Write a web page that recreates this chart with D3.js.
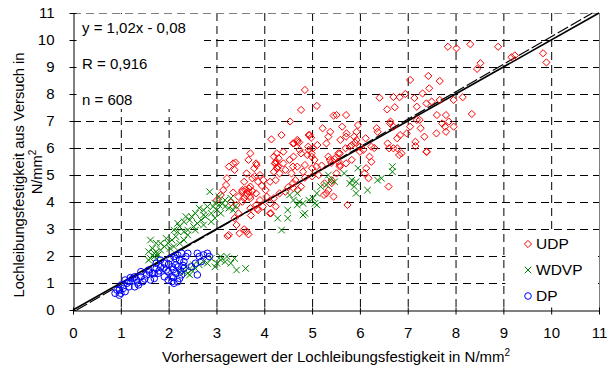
<!DOCTYPE html>
<html>
<head>
<meta charset="utf-8">
<script src="https://cdn.jsdelivr.net/npm/d3@7"></script>
<style>
  body { margin: 0; background: #fff; }
  text { font-family: "Liberation Sans", Arial, sans-serif; }
</style>
</head>
<body>
<script>
const width  = 613;
const height = 367;

// axis ticks 0..11 on both axes
const ticks = d3.range(0, 12);

// values: [predicted, test]
const udp = [
  [7.84,9.75],[8.02,9.69],[8.31,9.84],[8.89,9.75],[9.17,9.36],[9.24,9.43],[9.83,9.51],[9.9,9.17],[8.52,9.14],[8.45,8.93],
  [7.05,8.52],[7.43,8.67],[7.67,8.48],[7.45,8.21],[7.31,8.02],[6.95,8.0],[6.83,7.88],[6.7,7.89],[6.41,7.86],[7.14,7.85],
  [7.19,7.53],[7.39,7.65],[7.5,7.72],[7.67,7.78],[7.96,7.78],[8.15,7.88],[8.34,7.26],[7.96,6.79],[7.8,7.22],[7.61,7.22],
  [7.86,6.98],[7.72,6.91],[7.8,6.6],[7.25,7.04],[7.27,6.73],[7.35,6.42],[7.16,6.23],[7.16,6.07],[7.39,5.86],[7.05,6.79],
  [6.98,6.54],[6.78,6.36],[6.64,6.98],[6.7,6.79],[6.58,6.17],[6.82,5.74],[6.78,5.99],[6.61,5.99],[6.57,7.43],[6.73,7.51],
  [6.37,6.6],[6.24,6.05],[6.24,5.49],[6.13,5.25],[6.18,4.88],[6.1,5.06],[5.96,6.85],[6.12,6.36],[6.0,5.86],[5.88,6.42],
  [5.83,6.11],[5.7,5.99],[5.59,6.3],[5.71,7.22],[5.45,7.2],[5.51,7.22],[5.63,6.79],[5.71,6.42],[5.38,6.6],[5.22,6.73],
  [5.34,6.42],[5.3,6.17],[5.58,5.8],[5.71,5.43],[5.83,5.56],[5.58,5.31],[5.47,5.58],[5.34,5.68],[5.51,5.06],[5.41,4.81],
  [5.45,4.2],[5.34,4.44],[5.25,4.26],[5.74,3.89],[6.6,4.57],[5.1,7.56],[4.85,8.15],[4.77,7.41],[4.54,6.98],[4.15,6.32],
  [4.36,6.48],[4.69,6.3],[4.73,6.21],[4.62,6.17],[4.93,6.48],[4.98,6.38],[5.11,6.11],[5.02,5.99],[4.93,5.93],[4.77,5.8],
  [4.61,5.68],[4.53,5.56],[4.9,5.74],[4.99,5.68],[5.05,5.56],[5.0,5.25],[4.85,5.37],[4.69,5.31],[4.57,5.06],[4.65,4.81],
  [4.77,4.57],[4.61,4.51],[4.44,5.19],[4.4,5.43],[4.24,5.43],[4.3,5.62],[4.2,5.68],[4.29,5.31],[4.2,5.12],[4.32,5.06],
  [4.24,4.81],[4.12,4.75],[4.44,4.38],[4.32,4.32],[4.2,4.14],[4.12,3.95],[4.24,3.83],[4.12,3.58],[3.97,3.83],[3.91,4.07],
  [3.83,4.32],[4.03,4.44],[3.87,4.75],[3.91,5.0],[3.79,5.25],[3.83,5.43],[3.71,5.8],[3.67,5.56],[3.63,5.06],[3.75,4.88],
  [3.58,4.75],[3.71,4.57],[3.67,4.38],[3.54,4.38],[3.46,4.2],[3.58,4.14],[3.71,4.14],[3.54,4.01],[3.42,3.89],[3.3,3.98],
  [3.35,4.35],[3.38,5.19],[3.35,5.43],[3.26,5.31],[3.4,5.46],[3.22,4.88],[3.2,4.63],[3.14,4.44],[3.09,4.26],[3.01,4.07],
  [3.46,3.58],[3.38,3.4],[3.42,3.15],[3.48,2.84],[3.26,2.78],[3.23,2.74],[3.58,2.99],[3.63,2.9],[3.67,2.8],[3.71,3.77],
  [3.83,3.89],[3.87,3.7],[4.14,3.58],[3.54,4.44],[5.14,5.0],[5.26,4.69],[3.65,4.3],[3.7,4.22],[3.6,4.45],[3.75,4.4],
  [3.62,4.25],[3.68,4.5],[4.27,5.25],[4.25,5.5],[5.2,5.35],[5.4,5.45],[5.55,5.5],[5.5,5.65],[6.0,6.05],[5.9,6.2],
  [6.3,6.0],[4.5,4.55],[4.6,4.7],[5.0,4.95],[4.85,4.9],[4.7,4.45],[3.95,4.6],[3.85,3.75],[3.72,3.5],[4.05,4.2],
  [4.6,6.17],[4.69,6.23],[4.95,6.48],[4.92,6.05],[4.74,5.93],[4.99,5.8],[4.4,5.86],[4.26,5.8],[4.22,5.43],[4.26,5.25],
  [3.84,5.37],[3.8,4.95],[3.98,4.81],[4.6,5.31],[4.81,5.12],[5.09,5.31],[5.37,5.56],[5.58,5.37],[5.55,5.8],[5.79,6.05],
  [5.93,6.3],[6.07,5.93],[6.2,5.68],[5.72,6.54],[5.93,6.6],[6.35,6.73],[6.63,6.91],[6.84,6.48],[6.7,5.99],[6.87,5.8],
  [7.19,7.04],[7.4,5.86],[7.6,6.54],[7.78,6.79],[5.3,4.32],[5.41,4.7]
];

const wdvp = [
  [6.68,5.31],[6.68,5.12],[6.45,4.88],[6.37,4.81],[6.16,4.44],[5.96,5.25],[5.92,4.75],[5.88,4.57],[5.92,4.32],[5.83,4.81],
  [5.79,4.69],[5.67,5.06],[5.47,4.75],[5.34,5.0],[5.3,4.63],[5.18,4.57],[5.1,4.32],[5.02,4.14],[5.1,3.89],[5.06,3.95],
  [4.93,4.07],[4.81,3.95],[4.85,3.58],[4.81,3.52],[4.73,4.01],[4.69,3.89],[4.49,3.7],[4.49,3.4],[4.28,3.4],[4.36,2.96],
  [4.53,4.26],[4.61,4.07],[4.69,4.32],[5.38,4.81],
  [2.86,4.38],[3.05,4.2],[2.97,3.95],[3.05,3.89],[3.13,3.95],[3.18,3.83],[3.26,3.77],[2.93,3.83],[2.81,3.83],[2.73,3.7],
  [2.64,3.77],[2.56,3.58],[2.48,3.46],[2.44,3.33],[2.36,3.46],[2.32,3.27],[2.23,3.09],[2.19,3.21],[2.11,2.96],[2.19,2.9],
  [2.32,2.9],[2.4,2.96],[2.52,3.09],[2.6,3.21],[2.68,3.33],[2.77,3.46],[2.89,3.58],[3.01,3.7],[3.09,3.58],[2.97,3.4],
  [2.89,3.27],[2.73,3.15],[2.56,2.96],[2.4,2.78],[2.32,2.59],[2.23,2.47],[2.15,2.72],[2.07,2.59],[1.99,2.47],[1.95,2.65],
  [1.91,2.35],[2.03,2.28],[2.11,2.35],[1.83,2.22],[1.74,2.16],[1.7,2.1],[1.66,2.28],[1.62,2.59],[1.74,2.47],[1.83,2.47],
  [1.58,2.16],[1.62,1.91],[1.7,1.98],[1.74,1.91],[1.78,2.04],[1.58,1.85],[3.3,4.14],[3.18,4.07],[2.73,3.52],[3.35,3.7],
  [3.4,3.85],
  [3.42,1.48],[3.61,1.54],[3.38,1.91],[3.3,1.73],[3.18,1.79],[3.09,1.85],[3.01,1.73],[2.97,1.6],[2.89,1.91],[2.81,1.73],
  [2.73,1.79],[2.64,1.67],[2.56,1.54],[2.48,1.48],[2.4,1.36],[2.32,1.42],[2.36,1.6],[2.52,1.67],[3.22,1.98],[3.09,1.98],
  [2.44,1.3],[2.23,1.42]
];

const dp = [
  [1.0,0.62],[0.97,0.74],[1.05,0.8],[1.09,0.68],[1.01,0.93],[1.13,0.99],[1.09,1.11],[1.17,1.05],[1.25,1.17],[1.33,1.11],
  [1.37,0.93],[1.29,0.86],[1.42,1.23],[1.46,1.05],[1.54,1.3],[1.58,1.48],[1.66,1.36],[1.7,1.17],[1.62,1.11],[1.74,1.54],
  [1.83,1.6],[1.78,1.36],[1.91,1.73],[1.95,1.48],[1.91,1.23],[1.99,1.11],[2.07,1.05],[2.11,0.99],[2.03,1.91],[2.11,1.98],
  [2.19,2.04],[2.23,1.85],[2.15,1.67],[2.07,1.6],[1.99,1.42],[2.15,1.36],[2.23,1.17],[2.27,1.3],[2.32,1.79],[2.36,1.98],
  [2.4,2.1],[2.27,2.1],[2.32,1.54],[2.07,1.23],[2.19,1.05],[2.48,1.6],[2.56,1.73],[2.64,1.98],[2.6,2.1],[2.73,2.04],
  [2.81,2.1],[2.85,1.98],[2.6,1.3],[2.68,1.79],[1.83,1.85],[1.74,1.73],[1.42,1.42],[1.29,1.23],[1.17,0.86],[0.92,0.74],
  [0.88,0.62],[0.97,0.55],[2.1,1.5],[2.2,1.6],[2.0,1.7],[2.25,1.45],[2.1,1.2],[2.15,1.9],[2.3,1.65],[1.9,1.55],
  [1.8,1.45],[1.7,1.35],[1.6,1.4],[1.2,1.2],[1.35,1.0],[1.5,1.15]
];

// regression y = a*x + b
const regA = 1.02;
const regB = -0.08;
const statLines = ['y = 1,02x - 0,08', 'R = 0,916', 'n = 608'];
const legendNames = ['UDP', 'WDVP', 'DP'];

const x = d3.scaleLinear().domain([0, 11]).range([73, 599]);
const y = d3.scaleLinear().domain([0, 11]).range([310, 13]);

const svg = d3.select('body').append('svg')
  .attr('width', width)
  .attr('height', height);

// dashed grid
const grid = svg.append('g').attr('stroke', '#000').attr('stroke-dasharray', '8,5').attr('stroke-width', 1);
grid.selectAll('.gx').data(ticks.slice(1, 11)).enter().append('line')
  .attr('x1', d => x(d) + 0.5).attr('x2', d => x(d) + 0.5)
  .attr('y1', y(11)).attr('y2', y(0));
grid.selectAll('.gy').data(ticks.slice(1, 11)).enter().append('line')
  .attr('y1', d => y(d) + 0.5).attr('y2', d => y(d) + 0.5)
  .attr('x1', x(0)).attr('x2', x(11));

// white boxes (stats text, legend)
svg.append('rect').attr('x', x(0) + 1).attr('y', y(11) + 1)
  .attr('width', 130).attr('height', 95).attr('fill', '#fff');
svg.append('rect').attr('x', x(9) + 2).attr('y', y(3) + 2)
  .attr('width', x(11) - x(9) - 3).attr('height', y(0) - y(3) - 3).attr('fill', '#fff');

// top and right frame
svg.append('line').attr('x1', x(0)).attr('x2', x(11)).attr('y1', y(11) + 0.5).attr('y2', y(11) + 0.5)
  .attr('stroke', '#808080').attr('stroke-dasharray', '8,5');
svg.append('line').attr('x1', x(11) + 0.5).attr('x2', x(11) + 0.5).attr('y1', y(11)).attr('y2', y(0))
  .attr('stroke', '#808080');

// axes
const xAxis = svg.append('g').attr('transform', 'translate(0,' + (y(0) + 0.5) + ')')
  .call(d3.axisBottom(x).tickValues(ticks).tickSizeOuter(0).tickFormat(d3.format('d')));
xAxis.selectAll('.tick line').attr('y1', -3).attr('y2', 4);
xAxis.selectAll('.tick text').attr('y', 17).attr('font-size', 15);

const yAxis = svg.append('g').attr('transform', 'translate(' + (x(0) + 0.5) + ',0)')
  .call(d3.axisLeft(y).tickValues(ticks).tickSizeOuter(0).tickFormat(d3.format('d')));
yAxis.selectAll('.tick line').attr('x1', -4).attr('x2', 3);
yAxis.selectAll('.tick text').attr('x', -19).attr('font-size', 15);
svg.selectAll('.domain').attr('stroke', '#000');
svg.selectAll('.tick text').attr('fill', '#000').attr('font-family', '"Liberation Sans", Arial, sans-serif');

// 1:1 line and regression line
const line = d3.line().x(d => x(d[0])).y(d => y(d[1]));
svg.append('path').datum([[0, 0], [11, 11]]).attr('d', line)
  .attr('stroke', '#000').attr('stroke-width', 1.6).attr('fill', 'none');
const regEnd = (11 - regB) / regA;
svg.append('path').datum([[-regB / regA, 0], [regEnd, 11]]).attr('d', line)
  .attr('stroke', '#000').attr('stroke-width', 1.2).attr('stroke-dasharray', '12,3').attr('fill', 'none');

// markers
const diamond = 'M0,-3.6L3.6,0L0,3.6L-3.6,0Z';
const cross = 'M-3.3,-3.3L3.3,3.3M-3.3,3.3L3.3,-3.3';

svg.append('g').selectAll('path').data(udp).enter().append('path')
  .attr('transform', d => 'translate(' + x(d[0]) + ',' + y(d[1]) + ')')
  .attr('d', diamond).attr('fill', 'none').attr('stroke', '#ff0000').attr('stroke-width', 1);

svg.append('g').selectAll('path').data(wdvp).enter().append('path')
  .attr('transform', d => 'translate(' + x(d[0]) + ',' + y(d[1]) + ')')
  .attr('d', cross).attr('fill', 'none').attr('stroke', '#008000').attr('stroke-width', 1);

svg.append('g').selectAll('circle').data(dp).enter().append('circle')
  .attr('cx', d => x(d[0])).attr('cy', d => y(d[1])).attr('r', 3.3)
  .attr('fill', 'none').attr('stroke', '#0000ff').attr('stroke-width', 1);

// stats text
svg.append('g').selectAll('text').data(statLines).enter().append('text')
  .attr('x', 82).attr('y', (d, i) => 32.5 + i * 36)
  .attr('font-size', 15).text(d => d);

// legend
const legendShapes = [
  {d: diamond, stroke: '#ff0000'},
  {d: cross, stroke: '#008000'},
  {d: 'M3.3,0A3.3,3.3 0 1,1 -3.3,0A3.3,3.3 0 1,1 3.3,0Z', stroke: '#0000ff'}
];
const lg = svg.append('g').selectAll('g').data(legendNames).enter().append('g')
  .attr('transform', (d, i) => 'translate(528,' + (244 + i * 26) + ')');
lg.append('path').attr('d', (d, i) => legendShapes[i].d).attr('fill', 'none')
  .attr('stroke', (d, i) => legendShapes[i].stroke);
lg.append('text').attr('x', 8).attr('dy', '0.35em').attr('font-size', 15.5).text(d => d);

// axis titles
const xt = svg.append('text').attr('x', (x(0) + x(11)) / 2).attr('y', 362)
  .attr('text-anchor', 'middle').attr('font-size', 15);
xt.append('tspan').text('Vorhersagewert der Lochleibungsfestigkeit in N/mm');
xt.append('tspan').attr('dy', -6).attr('font-size', 10).text('2');

const yt = svg.append('text').attr('transform', 'translate(24,175) rotate(-90)')
  .attr('text-anchor', 'middle').attr('font-size', 14.7);
yt.append('tspan').attr('x', 0).attr('y', 0).text('Lochleibungsfestigkeit aus Versuch in');
const yt2 = svg.append('text').attr('transform', 'translate(42,172) rotate(-90)')
  .attr('text-anchor', 'middle').attr('font-size', 14.7);
yt2.append('tspan').text('N/mm');
yt2.append('tspan').attr('dy', -6).attr('font-size', 10).text('2');
</script>
</body>
</html>
